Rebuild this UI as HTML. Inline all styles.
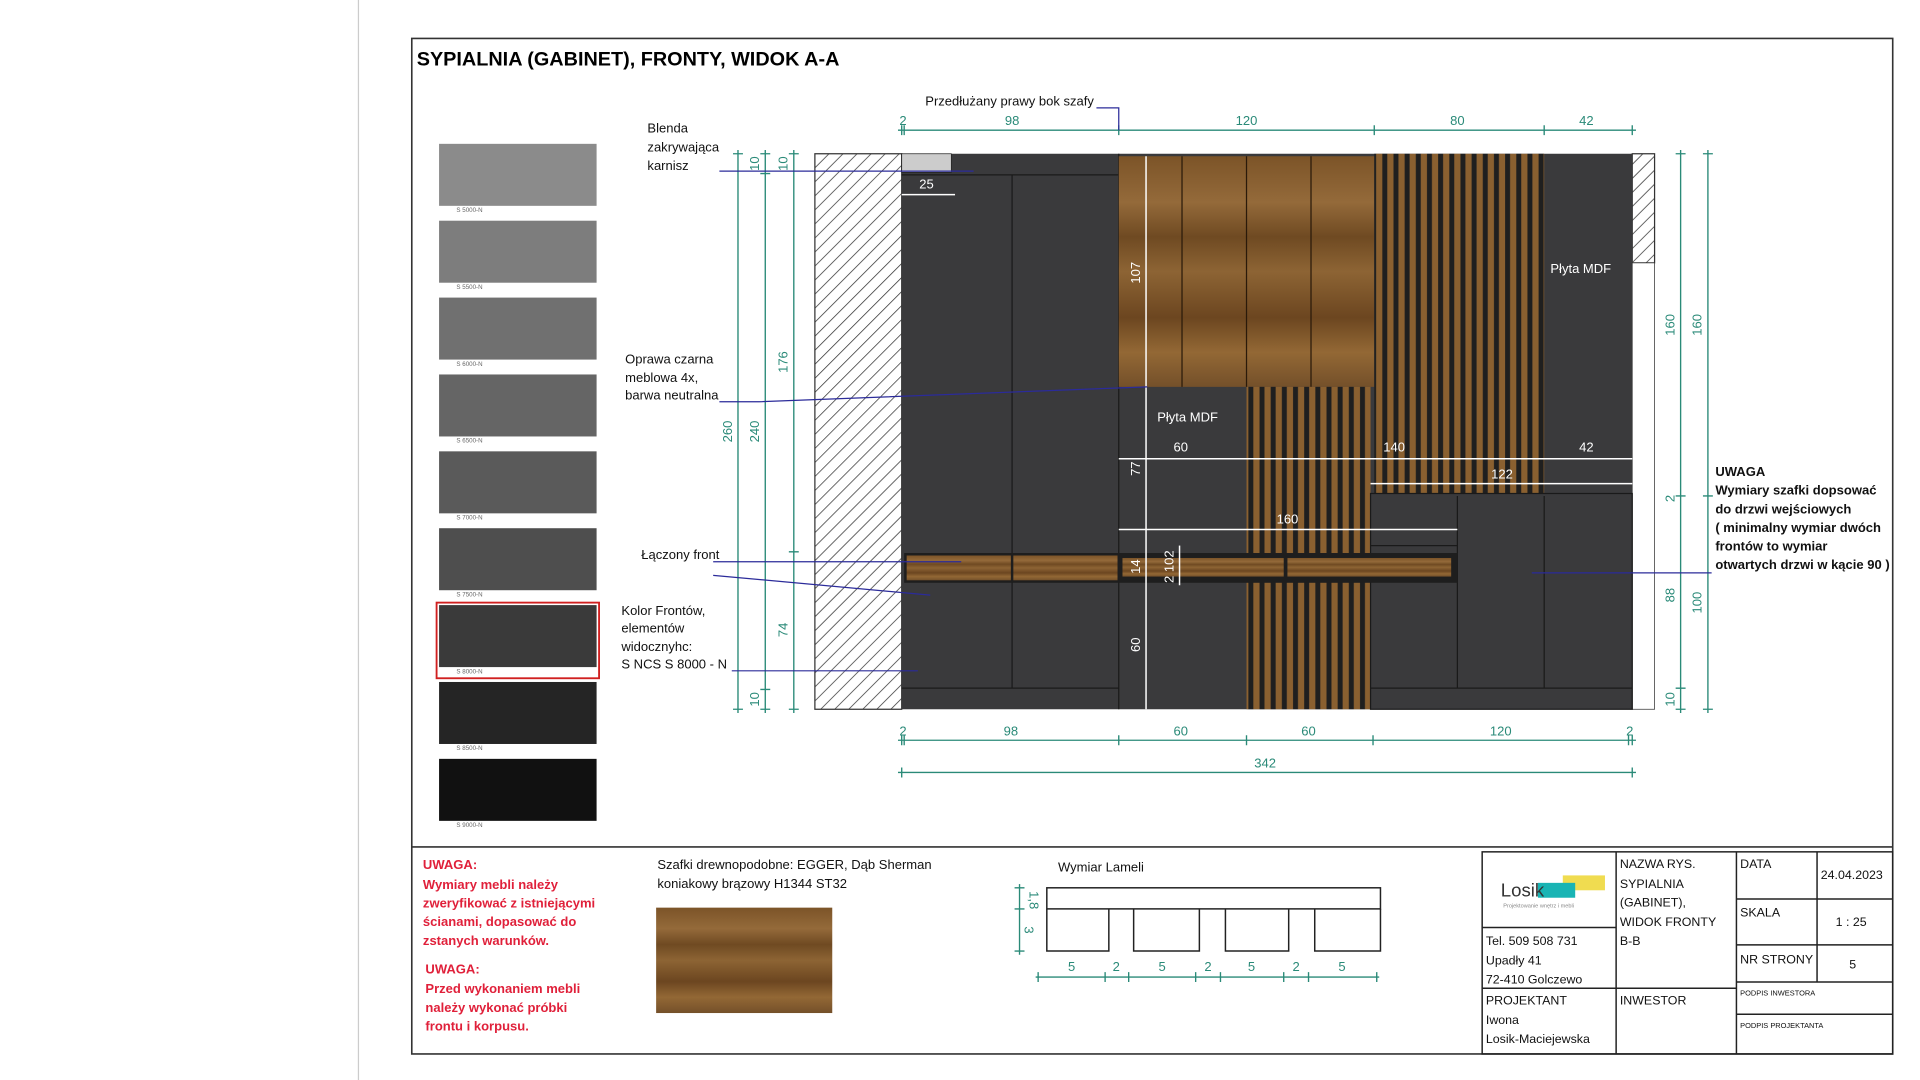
<!DOCTYPE html>
<html><head><meta charset="utf-8"><style>
html,body{margin:0;padding:0;background:#fff;}
svg{display:block;}
text{font-family:"Liberation Sans",sans-serif;}
</style></head><body>
<svg width="1920" height="1080" viewBox="0 0 1548 871" preserveAspectRatio="none" xmlns="http://www.w3.org/2000/svg">
<defs>
<pattern id="hatch" width="8" height="8" patternUnits="userSpaceOnUse" patternTransform="rotate(45)">
<rect width="8" height="8" fill="#fff"/><line x1="0" y1="0" x2="0" y2="8" stroke="#333" stroke-width="1.2"/></pattern>
<linearGradient id="wood" x1="0" y1="0" x2="0" y2="1">
<stop offset="0" stop-color="#7c5428"/><stop offset="0.2" stop-color="#946a3a"/><stop offset="0.35" stop-color="#6f4a22"/><stop offset="0.5" stop-color="#8d6434"/><stop offset="0.7" stop-color="#6c4620"/><stop offset="0.85" stop-color="#936835"/><stop offset="1" stop-color="#74502a"/></linearGradient>
<pattern id="slat" width="9" height="10" patternUnits="userSpaceOnUse"><rect width="9" height="10" fill="#1f1f1f"/><rect x="2.5" width="5" height="10" fill="#8a6030"/></pattern>
</defs>
<rect width="1548" height="871" fill="#fff"/>
<line x1="289" y1="0" x2="289" y2="871" stroke="#ccc" stroke-width="1"/>
<rect x="332" y="31" width="1194" height="819" fill="none" stroke="#333" stroke-width="1.3"/>
<line x1="332" y1="683" x2="1526" y2="683" stroke="#333" stroke-width="1.3"/>
<text x="336" y="53" font-size="16" font-weight="bold">SYPIALNIA (GABINET), FRONTY, WIDOK A-A</text>

<!-- swatches -->
<g font-size="5" fill="#666">
<rect x="354" y="116" width="127" height="50" fill="#8b8b8b"/><text x="368" y="171">S 5000-N</text>
<rect x="354" y="178" width="127" height="50" fill="#7d7d7d"/><text x="368" y="233">S 5500-N</text>
<rect x="354" y="240" width="127" height="50" fill="#707070"/><text x="368" y="295">S 6000-N</text>
<rect x="354" y="302" width="127" height="50" fill="#656565"/><text x="368" y="357">S 6500-N</text>
<rect x="354" y="364" width="127" height="50" fill="#5a5a5a"/><text x="368" y="419">S 7000-N</text>
<rect x="354" y="426" width="127" height="50" fill="#4e4e4e"/><text x="368" y="481">S 7500-N</text>
<rect x="354" y="488" width="127" height="50" fill="#3a3a3a"/><text x="368" y="543">S 8000-N</text>
<rect x="354" y="550" width="127" height="50" fill="#252525"/><text x="368" y="605">S 8500-N</text>
<rect x="354" y="612" width="127" height="50" fill="#111"/><text x="368" y="667">S 9000-N</text>
</g>
<rect x="352" y="486" width="131" height="61" fill="none" stroke="#d02020" stroke-width="1.5"/>

<!-- wall hatch -->
<rect x="657" y="124" width="70" height="448" fill="url(#hatch)" stroke="#333"/>
<rect x="1316" y="124" width="18" height="88" fill="url(#hatch)" stroke="#333"/>
<rect x="1316" y="212" width="18" height="360" fill="#fff" stroke="#333" stroke-width="0.6"/>

<!-- cabinets -->
<rect x="727" y="124" width="589" height="448" fill="#3a3a3c"/>
<rect x="727" y="124" width="40" height="15" fill="#ccc" stroke="#222" stroke-width="0.6"/>
<line x1="727" y1="141" x2="902" y2="141" stroke="#1a1a1a"/>
<line x1="816" y1="141" x2="816" y2="555" stroke="#1a1a1a"/>
<line x1="727" y1="555" x2="902" y2="555" stroke="#1a1a1a"/>
<line x1="902" y1="124" x2="902" y2="572" stroke="#1a1a1a"/>
<!-- wood upper -->
<rect x="902" y="126" width="206" height="186" fill="url(#wood)"/>
<g stroke="#2a1a0a" stroke-width="1"><line x1="953" y1="126" x2="953" y2="312"/><line x1="1005" y1="126" x2="1005" y2="312"/><line x1="1057" y1="126" x2="1057" y2="312"/></g>
<!-- slats -->
<rect x="1108" y="124" width="137" height="276" fill="url(#slat)"/>
<rect x="1005" y="312" width="100" height="260" fill="url(#slat)"/>
<rect x="1105" y="398" width="211" height="174" fill="#3a3a3c" stroke="#1a1a1a"/>
<g stroke="#1a1a1a"><line x1="1175" y1="400" x2="1175" y2="555"/><line x1="1245" y1="400" x2="1245" y2="555"/><line x1="1105" y1="555" x2="1316" y2="555"/><line x1="1105" y1="440" x2="1175" y2="440"/></g>
<!-- wood strip -->
<rect x="729" y="446" width="446" height="24" fill="#1e1e1e"/>
<rect x="731" y="448" width="84" height="20" fill="url(#wood)"/>
<rect x="817" y="448" width="84" height="20" fill="url(#wood)"/>
<rect x="905" y="450" width="130" height="15" fill="url(#wood)"/>
<rect x="1038" y="450" width="132" height="15" fill="url(#wood)"/>

<text x="1250" y="220" font-size="10.5" fill="#fff">Płyta MDF</text>
<text x="933" y="340" font-size="10.5" fill="#fff">Płyta MDF</text>

<!-- white internal dims -->
<g stroke="#fff" stroke-width="1.2" fill="none">
<line x1="924" y1="126" x2="924" y2="572"/>
<line x1="902" y1="370" x2="1316" y2="370"/>
<line x1="1105" y1="390" x2="1316" y2="390"/>
<line x1="902" y1="427" x2="1175" y2="427"/>
<line x1="951" y1="440" x2="951" y2="472"/>
<line x1="727" y1="157" x2="770" y2="157"/>
</g>
<g fill="#fff" font-size="10.5">
<text x="952" y="364" text-anchor="middle">60</text><text x="1124" y="364" text-anchor="middle">140</text><text x="1279" y="364" text-anchor="middle">42</text>
<text x="1211" y="386" text-anchor="middle">122</text><text x="1038" y="422" text-anchor="middle">160</text>
<text x="747" y="152" text-anchor="middle">25</text>
<text transform="translate(919,220) rotate(-90)" text-anchor="middle">107</text>
<text transform="translate(919,378) rotate(-90)" text-anchor="middle">77</text>
<text transform="translate(919,457) rotate(-90)" text-anchor="middle">14</text>
<text transform="translate(946,457) rotate(-90)" text-anchor="middle">2 102</text>
<text transform="translate(919,520) rotate(-90)" text-anchor="middle">60</text>
</g>

<!-- teal dims -->
<g stroke="#2a8a78" stroke-width="1.1">
<line x1="724" y1="105" x2="1319" y2="105"/>
<line x1="724" y1="597" x2="1319" y2="597"/>
<line x1="724" y1="623" x2="1319" y2="623"/>
<line x1="595" y1="121" x2="595" y2="575"/>
<line x1="617" y1="121" x2="617" y2="575"/>
<line x1="640" y1="121" x2="640" y2="575"/>
<line x1="1355" y1="121" x2="1355" y2="575"/>
<line x1="1377" y1="121" x2="1377" y2="575"/>
<line x1="822" y1="713" x2="822" y2="770"/>
<line x1="835" y1="788" x2="1112" y2="788"/>
</g>
<g stroke="#2a8a78" stroke-width="1.1">
<path d="M727 101v8M729 101v8M902 101v8M1108 101v8M1245 101v8M1316 101v8"/>
<path d="M727 593v8M729 593v8M902 593v8M1005 593v8M1107 593v8M1313 593v8M1316 593v8M727 619v8M1316 619v8"/>
<path d="M591 124h8M591 572h8M613 140h8M613 556h8M613 124h8M613 572h8M636 124h8M636 445h8M636 572h8"/>
<path d="M1351 124h8M1351 400h8M1351 555h8M1351 572h8M1373 124h8M1373 400h8M1373 572h8"/>
<path d="M818 716h8M818 733h8M818 767h8M837 784v8M891 784v8M910 784v8M964 784v8M984 784v8M1035 784v8M1055 784v8M1110 784v8"/>
</g>
<g fill="#2a8a78" font-size="10.5" text-anchor="middle">
<text x="728" y="101">2</text><text x="816" y="101">98</text><text x="1005" y="101">120</text><text x="1175" y="101">80</text><text x="1279" y="101">42</text>
<text x="728" y="593">2</text><text x="815" y="593">98</text><text x="952" y="593">60</text><text x="1055" y="593">60</text><text x="1210" y="593">120</text><text x="1314" y="593">2</text>
<text x="1020" y="619">342</text>
<text transform="translate(590,348) rotate(-90)">260</text>
<text transform="translate(612,348) rotate(-90)">240</text>
<text transform="translate(612,132) rotate(-90)">10</text>
<text transform="translate(635,132) rotate(-90)">10</text>
<text transform="translate(635,292) rotate(-90)">176</text>
<text transform="translate(635,508) rotate(-90)">74</text>
<text transform="translate(612,564) rotate(-90)">10</text>
<text transform="translate(1350,262) rotate(-90)">160</text>
<text transform="translate(1372,262) rotate(-90)">160</text>
<text transform="translate(1350,402) rotate(-90)">2</text>
<text transform="translate(1350,480) rotate(-90)">88</text>
<text transform="translate(1372,486) rotate(-90)">100</text>
<text transform="translate(1350,564) rotate(-90)">10</text>
<text transform="translate(830,726) rotate(90)">1,8</text>
<text transform="translate(826,750) rotate(90)">3</text>
<text x="864" y="783">5</text><text x="900" y="783">2</text><text x="937" y="783">5</text><text x="974" y="783">2</text><text x="1009" y="783">5</text><text x="1045" y="783">2</text><text x="1082" y="783">5</text>
</g>

<!-- leader lines -->
<g stroke="#2b2b9a" stroke-width="1" fill="none">
<path d="M580 138H785"/>
<path d="M580 324H612L925 312"/>
<path d="M575 453H775"/>
<path d="M575 464L750 480"/>
<path d="M590 541H740"/>
<path d="M884 87H902V105"/>
<path d="M1380 462H1235"/>
</g>
<g font-size="10.5" fill="#111">
<text x="746" y="85">Przedłużany prawy bok szafy</text>
<text x="522" y="107">Blenda</text><text x="522" y="122">zakrywająca</text><text x="522" y="137">karnisz</text>
<text x="504" y="293">Oprawa czarna</text><text x="504" y="308">meblowa 4x,</text><text x="504" y="322">barwa neutralna</text>
<text x="517" y="451">Łączony front</text>
<text x="501" y="496">Kolor Frontów,</text><text x="501" y="510">elementów</text><text x="501" y="525">widocznyhc:</text><text x="501" y="539">S NCS S 8000 - N</text>
</g>
<g font-size="10.5" font-weight="bold" fill="#111">
<text x="1383" y="384">UWAGA</text>
<text x="1383" y="399">Wymiary szafki dopsować</text>
<text x="1383" y="414">do drzwi wejściowych</text>
<text x="1383" y="429">( minimalny wymiar dwóch</text>
<text x="1383" y="444">frontów to wymiar</text>
<text x="1383" y="459">otwartych drzwi w kącie 90 )</text>
</g>

<!-- bottom -->
<g font-size="10.5" font-weight="bold" fill="#e0203a">
<text x="341" y="701">UWAGA:</text>
<text x="341" y="717">Wymiary mebli należy</text>
<text x="341" y="732">zweryfikować z istniejącymi</text>
<text x="341" y="747">ścianami, dopasować do</text>
<text x="341" y="762">zstanych warunków.</text>
<text x="343" y="785">UWAGA:</text>
<text x="343" y="801">Przed wykonaniem mebli</text>
<text x="343" y="816">należy wykonać próbki</text>
<text x="343" y="831">frontu i korpusu.</text>
</g>
<g font-size="10.5" fill="#111">
<text x="530" y="701">Szafki drewnopodobne: EGGER, Dąb Sherman</text>
<text x="530" y="716">koniakowy brązowy H1344 ST32</text>
<text x="853" y="703">Wymiar Lameli</text>
</g>
<rect x="529" y="732" width="142" height="85" fill="url(#wood)"/>
<g fill="none" stroke="#222" stroke-width="1.2">
<rect x="844" y="716" width="269" height="17"/>
<path d="M844 733V767H894V733M914 733V767H967V733M988 733V767H1039V733M1060 733V767H1113V733"/>
</g>

<!-- title block -->
<g fill="none" stroke="#222" stroke-width="1.2">
<rect x="1195" y="687" width="331" height="163"/>
<path d="M1303 687V850M1400 687V850M1465 687V792M1195 748H1303M1195 797H1400M1400 725H1526M1400 762H1526M1400 792H1526M1400 818H1526"/>
</g>
<rect x="1260" y="706" width="34" height="12" fill="#f0dc50"/>
<rect x="1240" y="712" width="30" height="12" fill="#19b4b4"/>
<text x="1210" y="723" font-size="15" fill="#333">Losik</text>
<text x="1212" y="732" font-size="4.5" fill="#888">Projektowanie wnętrz i mebli</text>
<g font-size="10" fill="#111">
<text x="1306" y="700">NAZWA RYS.</text><text x="1306" y="716">SYPIALNIA</text><text x="1306" y="731">(GABINET),</text><text x="1306" y="747">WIDOK FRONTY</text><text x="1306" y="762">B-B</text>
<text x="1198" y="762">Tel.  509 508 731</text><text x="1198" y="778">Upadły 41</text><text x="1198" y="793">72-410 Golczewo</text>
<text x="1198" y="810">PROJEKTANT</text><text x="1198" y="826">Iwona</text><text x="1198" y="841">Losik-Maciejewska</text>
<text x="1306" y="810">INWESTOR</text>
<text x="1403" y="700">DATA</text><text x="1468" y="709">24.04.2023</text>
<text x="1403" y="739">SKALA</text><text x="1480" y="747">1 : 25</text>
<text x="1403" y="777">NR STRONY</text><text x="1491" y="781">5</text>
</g>
<g font-size="6" fill="#111"><text x="1403" y="803">PODPIS INWESTORA</text><text x="1403" y="829">PODPIS PROJEKTANTA</text></g>
</svg>
</body></html>
